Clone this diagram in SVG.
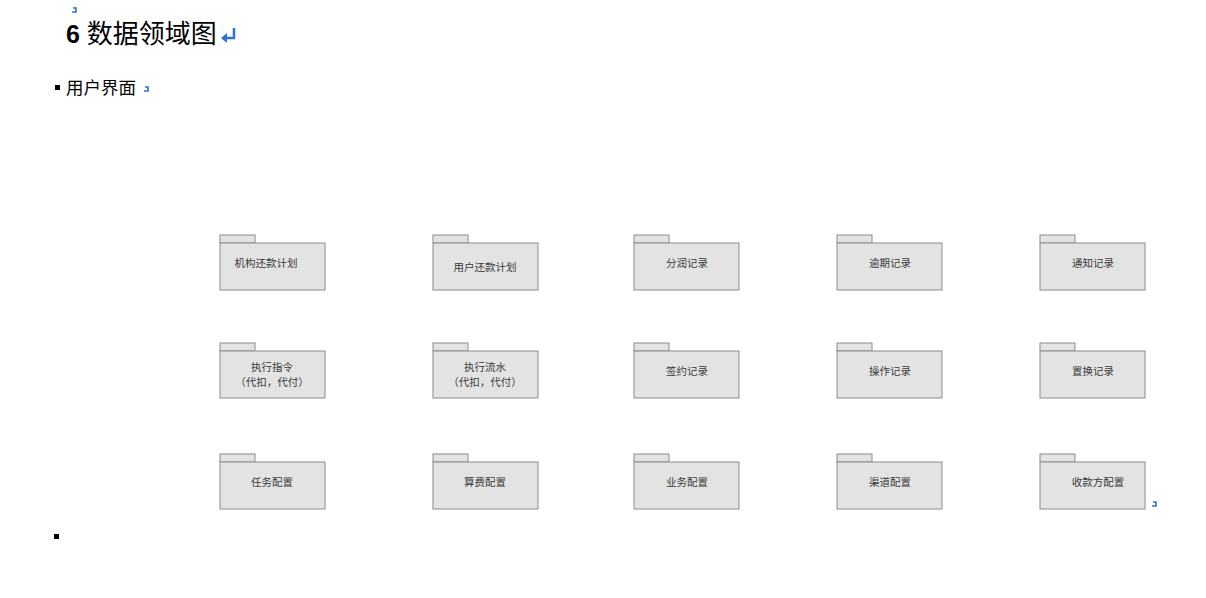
<svg xmlns="http://www.w3.org/2000/svg" width="1206" height="598" viewBox="0 0 1206 598">
<style>
.tab{fill:#e3e3e3;stroke:#8c8c8c;stroke-width:1}
.body{fill:#e3e3e3;stroke:#8c8c8c;stroke-width:1}
.lbl{font-family:"Liberation Sans","Noto Sans CJK SC",sans-serif;font-size:10.5px;fill:#3a3a3a;text-anchor:middle}
.mark{fill:none;stroke:#2f6fd6;stroke-width:1.6}
</style>
<defs>
<g id="pkg">
<rect class="tab" x="0.5" y="0.5" width="35" height="8"/>
<rect class="body" x="0.5" y="8.5" width="105" height="47"/>
</g>
</defs>
<rect width="1206" height="598" fill="#fff"/>
<g id="header">
<path class="mark" d="M73 8 L76 8 L76 12 L72 12"/>
<text x="66" y="43" font-family="Liberation Sans,Noto Sans CJK SC,sans-serif" font-size="25" fill="#000"><tspan font-weight="bold">6</tspan> <tspan font-size="26">数据领域图</tspan></text>
<path d="M234 28 V38 H226" fill="none" stroke="#2f6fd6" stroke-width="2.5"/>
<path d="M221 38 L227 33 L227 43 Z" fill="#2f6fd6"/>
<rect x="55" y="85" width="5" height="5" fill="#000"/>
<text x="66" y="94" font-family="Liberation Sans,Noto Sans CJK SC,sans-serif" font-size="17.5" fill="#000">用户界面</text>
<path class="mark" d="M145 87 L148 87 L148 91 L144 91"/>
</g>
<g id="n1"><use href="#pkg" x="219.5" y="234.5"/><text class="lbl" x="266" y="267">机构还款计划</text></g>
<g id="n2"><use href="#pkg" x="432.5" y="234.5"/><text class="lbl" x="485" y="271">用户还款计划</text></g>
<g id="n3"><use href="#pkg" x="633.5" y="234.5"/><text class="lbl" x="687" y="267">分润记录</text></g>
<g id="n4"><use href="#pkg" x="836.5" y="234.5"/><text class="lbl" x="890" y="267">逾期记录</text></g>
<g id="n5"><use href="#pkg" x="1039.5" y="234.5"/><text class="lbl" x="1093" y="267">通知记录</text></g>
<g id="n6"><use href="#pkg" x="219.5" y="342.5"/><text class="lbl" x="272" y="371">执行指令</text><text class="lbl" x="272" y="386">（代扣，代付）</text></g>
<g id="n7"><use href="#pkg" x="432.5" y="342.5"/><text class="lbl" x="485" y="371">执行流水</text><text class="lbl" x="485" y="386">（代扣，代付）</text></g>
<g id="n8"><use href="#pkg" x="633.5" y="342.5"/><text class="lbl" x="687" y="375">签约记录</text></g>
<g id="n9"><use href="#pkg" x="836.5" y="342.5"/><text class="lbl" x="890" y="375">操作记录</text></g>
<g id="n10"><use href="#pkg" x="1039.5" y="342.5"/><text class="lbl" x="1093" y="375">置换记录</text></g>
<g id="n11"><use href="#pkg" x="219.5" y="453.5"/><text class="lbl" x="272" y="486">任务配置</text></g>
<g id="n12"><use href="#pkg" x="432.5" y="453.5"/><text class="lbl" x="485" y="486">算费配置</text></g>
<g id="n13"><use href="#pkg" x="633.5" y="453.5"/><text class="lbl" x="687" y="486">业务配置</text></g>
<g id="n14"><use href="#pkg" x="836.5" y="453.5"/><text class="lbl" x="890" y="486">渠道配置</text></g>
<g id="n15"><use href="#pkg" x="1039.5" y="453.5"/><text class="lbl" x="1098" y="486">收款方配置</text></g>
<g id="connectors"></g>
<g id="footer">
<path class="mark" d="M1153 502 L1156 502 L1156 506 L1152 506"/>
<rect x="54" y="534" width="5" height="5" fill="#000"/>
</g>
</svg>
